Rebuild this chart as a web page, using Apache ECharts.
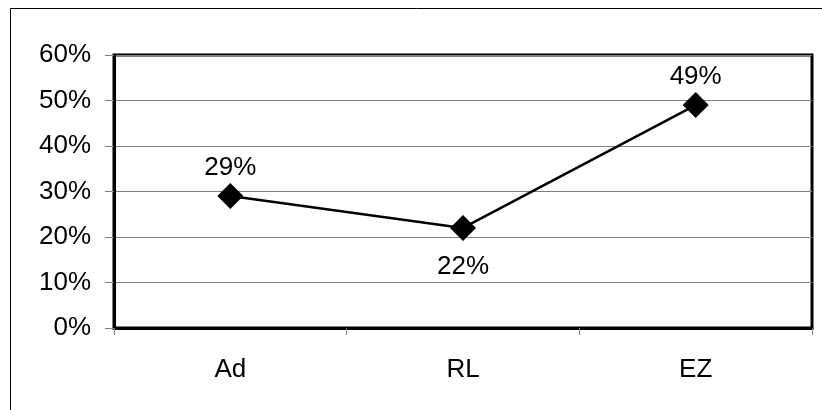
<!DOCTYPE html>
<html><head><meta charset="utf-8">
<script src="https://cdn.jsdelivr.net/npm/echarts@6/dist/echarts.min.js"></script>
<style>html,body{margin:0;padding:0;background:#fff}#c{width:822px;height:410px}</style>
</head><body><div id="c"></div>
<script>
var categories = ['Ad', 'RL', 'EZ'];
var values = [29, 22, 49];
var labelPositions = ['top', 'bottom', 'top'];
var yTicks = [0, 10, 20, 30, 40, 50, 60];

var chart = echarts.init(document.getElementById('c'), null, {renderer: 'canvas'});
var font = 'Liberation Sans, Arial, sans-serif';
chart.setOption({
  animation: false,
  backgroundColor: '#fff',
  graphic: [{
    type: 'rect', shape: {x: 10.5, y: 8.5, width: 830, height: 430},
    style: {fill: 'none', stroke: '#000', lineWidth: 1}, silent: true, z: -10
  }],
  grid: {left: 114, right: 10, top: 55, bottom: 82, show: true, borderColor: '#000', borderWidth: 3, backgroundColor: 'transparent'},
  xAxis: {
    type: 'category', data: categories, boundaryGap: true,
    axisLine: {lineStyle: {color: '#000', width: 3}},
    axisTick: {show: true, length: 7, lineStyle: {color: '#808080', width: 1}, alignWithLabel: false},
    axisLabel: {color: '#000', fontFamily: font, fontSize: 26, margin: 29}
  },
  yAxis: {
    type: 'value', min: yTicks[0], max: yTicks[yTicks.length - 1], interval: 10,
    axisLine: {show: true, lineStyle: {color: '#000', width: 3}},
    axisTick: {show: true, length: 9, lineStyle: {color: '#808080', width: 1}},
    axisLabel: {color: '#000', fontFamily: font, fontSize: 26, margin: 23, formatter: '{value}%'},
    splitLine: {show: true, lineStyle: {color: '#808080', width: 1}}
  },
  series: [{
    type: 'line',
    data: values.map(function (v, i) {
      return {value: v, label: {position: labelPositions[i], distance: labelPositions[i] === 'top' ? 2 : 13}};
    }),
    symbol: 'diamond', symbolSize: 26,
    itemStyle: {color: '#000'},
    lineStyle: {color: '#000', width: 2.5},
    label: {show: true, formatter: '{c}%', color: '#000', fontFamily: font, fontSize: 26}
  }]
});
</script></body></html>
